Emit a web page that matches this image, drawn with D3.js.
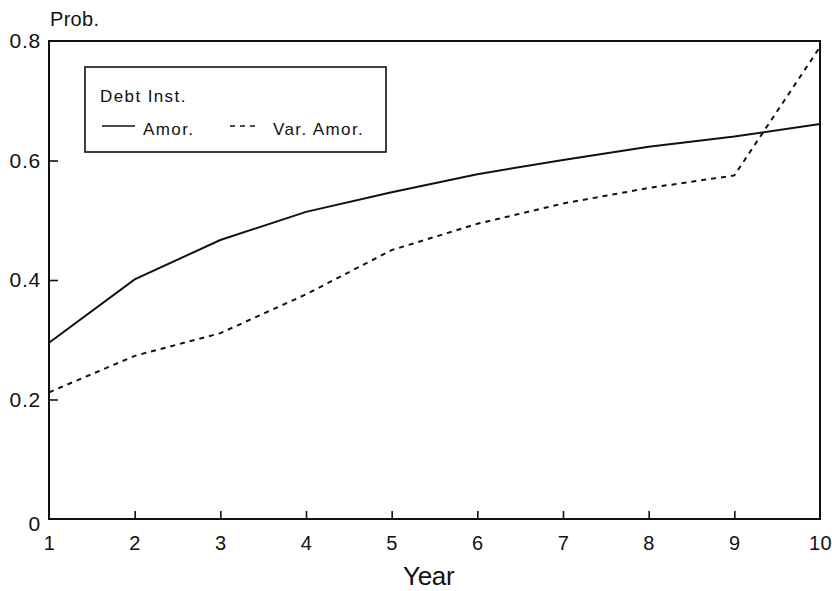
<!DOCTYPE html>
<html>
<head>
<meta charset="utf-8">
<script src="https://cdn.jsdelivr.net/npm/d3@7"></script>
<style>
  html, body { margin: 0; padding: 0; background: #fff; }
  svg { display: block; }
  text { font-family: "Liberation Sans", Arial, sans-serif; fill: #111; }
</style>
</head>
<body>
<svg id="chart" width="832" height="591"></svg>
<script>
const years = [1, 2, 3, 4, 5, 6, 7, 8, 9, 10];
const amor = [0.295, 0.401, 0.467, 0.514, 0.547, 0.577, 0.601, 0.623, 0.640, 0.661];
const varAmor = [0.212, 0.273, 0.311, 0.376, 0.450, 0.494, 0.528, 0.554, 0.575, 0.790];
const yTicks = [0, 0.2, 0.4, 0.6, 0.8];
const yTickLabels = ["0", "0.2", "0.4", "0.6", "0.8"];
const seriesNames = ["Amor.", "Var. Amor."];
const legendTitle = "Debt Inst.";
const xTitle = "Year";
const yTitle = "Prob.";

(function () {
const svg = d3.select("#chart");
const mLeft = 49, mRight = 820, mTop = 41, mBottom = 519;

const x = d3.scaleLinear().domain([1, 10]).range([mLeft, mRight]);
const y = d3.scaleLinear().domain([0, 0.8]).range([mBottom, mTop]);

// frame
svg.append("rect")
  .attr("x", mLeft).attr("y", mTop)
  .attr("width", mRight - mLeft).attr("height", mBottom - mTop)
  .attr("fill", "none").attr("stroke", "#111").attr("stroke-width", 2);

// x axis
const xAxis = svg.append("g")
  .attr("transform", `translate(0,${mBottom})`)
  .call(d3.axisBottom(x).tickValues(years).tickFormat(d3.format("d"))
    .tickSizeInner(-8).tickSizeOuter(0).tickPadding(17));
xAxis.select(".domain").remove();
xAxis.selectAll(".tick line").attr("stroke", "#111").attr("stroke-width", 1.6)
  .filter(d => d === 1 || d === 10).remove();
xAxis.selectAll(".tick text").attr("font-size", 20).attr("font-family", "Liberation Sans, Arial, sans-serif")
  .attr("letter-spacing", 0.5).attr("fill", "#111");

// y axis
const yAxis = svg.append("g")
  .attr("transform", `translate(${mLeft},0)`)
  .call(d3.axisLeft(y).tickValues(yTicks).tickFormat((d, i) => yTickLabels[i])
    .tickSizeInner(-9).tickSizeOuter(0).tickPadding(8));
yAxis.select(".domain").remove();
yAxis.selectAll(".tick line").attr("stroke", "#111").attr("stroke-width", 1.6)
  .filter(d => d === 0 || d === 0.8).remove();
yAxis.selectAll(".tick text").attr("font-size", 21).attr("font-family", "Liberation Sans, Arial, sans-serif")
  .attr("letter-spacing", 0.8).attr("fill", "#111");
yAxis.selectAll(".tick text").filter(d => d === 0).attr("dy", "0.55em");

// titles
svg.append("text").attr("x", 50).attr("y", 26).attr("font-size", 20)
  .attr("letter-spacing", 0.3).text(yTitle);
svg.append("text").attr("x", 403).attr("y", 585).attr("font-size", 26)
  .attr("letter-spacing", -0.3).text(xTitle);

// lines
const line = d3.line().x((d, i) => x(years[i])).y(d => y(d));
svg.append("path").datum(amor).attr("d", line)
  .attr("fill", "none").attr("stroke", "#111").attr("stroke-width", 2);
svg.append("path").datum(varAmor).attr("d", line)
  .attr("fill", "none").attr("stroke", "#111").attr("stroke-width", 2)
  .attr("stroke-dasharray", "5,5");

// legend
const lg = svg.append("g");
lg.append("rect").attr("x", 85).attr("y", 67).attr("width", 301).attr("height", 85)
  .attr("fill", "#fff").attr("stroke", "#111").attr("stroke-width", 1.6);
lg.append("text").attr("x", 100).attr("y", 102).attr("font-size", 17)
  .attr("letter-spacing", 1.4).text(legendTitle);
lg.append("line").attr("x1", 102).attr("x2", 135).attr("y1", 126).attr("y2", 126)
  .attr("stroke", "#111").attr("stroke-width", 1.6);
lg.append("text").attr("x", 143).attr("y", 135).attr("font-size", 17)
  .attr("letter-spacing", 1.4).text(seriesNames[0]);
lg.append("line").attr("x1", 230).attr("x2", 256).attr("y1", 126).attr("y2", 126)
  .attr("stroke", "#111").attr("stroke-width", 1.6).attr("stroke-dasharray", "5,5");
lg.append("text").attr("x", 273).attr("y", 135).attr("font-size", 17)
  .attr("letter-spacing", 1.4).text(seriesNames[1]);
})();
</script>
</body>
</html>
